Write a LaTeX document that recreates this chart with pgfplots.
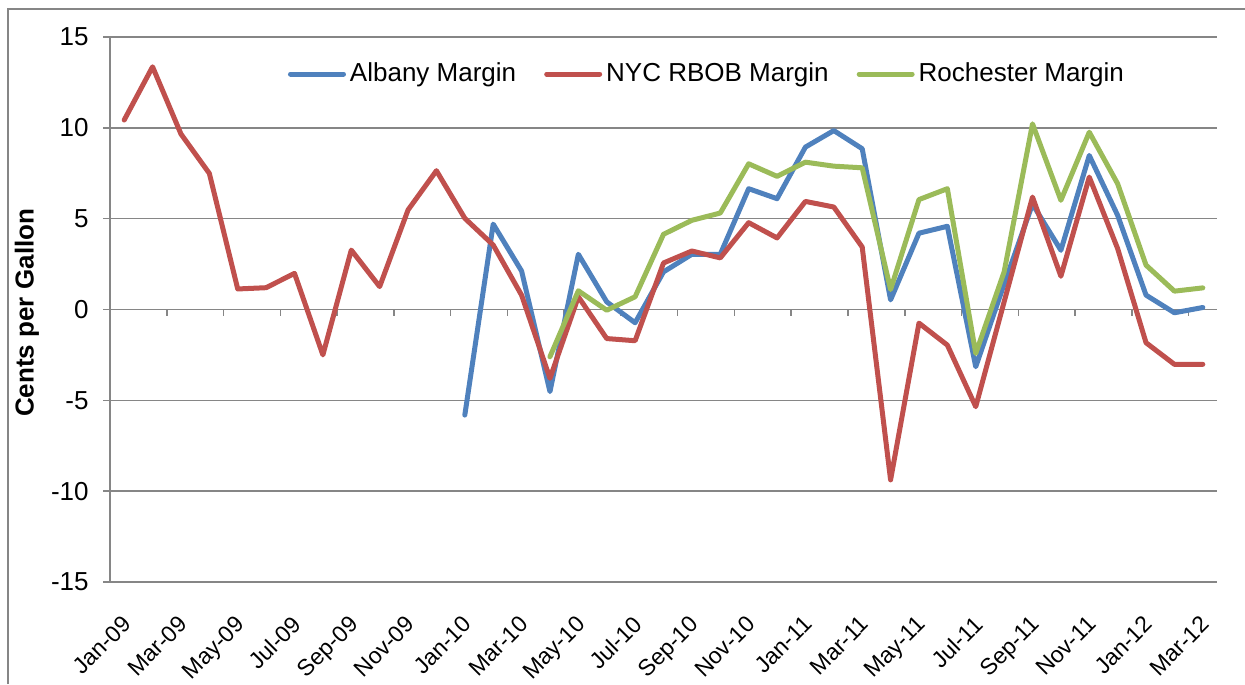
\documentclass[border=0pt]{standalone}
\usepackage{fontspec}
\setmainfont{Liberation Sans}
\usepackage{pgfplots}
\pgfplotsset{compat=1.18}
\definecolor{cblue}{RGB}{79,129,189}
\definecolor{cred}{RGB}{192,80,77}
\definecolor{cgreen}{RGB}{155,187,89}
\definecolor{cgrid}{RGB}{134,134,134}
\newcommand\cf{\fontsize{13pt}{15.6pt}\selectfont}
\newcommand\xf{\fontsize{11.5pt}{13.8pt}\selectfont}
\begin{document}
\begin{tikzpicture}
\useasboundingbox (0,0) rectangle (622.5pt,342pt);
\draw[cgrid, line width=0.75pt] (4pt,0) -- (4pt,337.5pt) -- (622.5pt,337.5pt);
\begin{axis}[
  at={(55pt,51pt)}, anchor=south west,
  width=553.5pt, height=272.5pt, scale only axis,
  xmin=-0.5, xmax=38.5, ymin=-15, ymax=15,
  axis x line*=bottom, axis y line*=left,
  x axis line style={draw=none},
  y axis line style={draw=cgrid, line width=0.75pt, -},
  ytick={-15,-10,...,15},
  yticklabels={-15,-10,-5,0,5,10,15},
  ymajorgrids, grid style={cgrid, line width=0.75pt},
  tick align=outside, major tick length=3.5pt,
  ytick style={cgrid, line width=0.75pt},
  xtick style={draw=none},
  xtick={-0.12,1.88,...,37.88},
  xticklabels={Jan-09,Mar-09,May-09,Jul-09,Sep-09,Nov-09,Jan-10,Mar-10,May-10,Jul-10,Sep-10,Nov-10,Jan-11,Mar-11,May-11,Jul-11,Sep-11,Nov-11,Jan-12,Mar-12},
  xticklabel style={font=\xf, rotate=45, anchor=north east, inner sep=0pt},
  xticklabel shift=12.5pt,
  yticklabel style={font=\cf, anchor=east, inner sep=0pt, xshift=-7pt},
  every axis y label/.style={at={(axis description cs:0,0.494)}, xshift=-41.5pt, rotate=90, anchor=center, font=\cf\bfseries},
  ylabel={Cents per Gallon},
  legend columns=3,
  legend style={draw=none, fill=none, at={(axis description cs:0.155,0.932)}, anchor=west, font=\cf,
    /tikz/every even column/.append style={column sep=12pt}},
  legend image code/.code={\draw[#1, line width=2.5pt, line cap=round] (0pt,0pt) -- (26.5pt,0pt);},
  every axis plot/.append style={line width=2.5pt, line join=round, line cap=round, mark=none},
]
\pgfplotsinvokeforeach{1.5,3.5,...,37.5}{\draw[cgrid, line width=0.75pt] (axis cs:#1,0) -- ([yshift=-3.5pt]axis cs:#1,0);}
\addplot[cblue] coordinates {
(12,-5.81) (13,4.7) (14,2.12) (15,-4.52) (16,3.04) (17,0.42) (18,-0.73) (19,2.07) (20,3.04) (21,3.04)
(22,6.65) (23,6.1) (24,8.94) (25,9.85) (26,8.85) (27,0.53) (28,4.2) (29,4.58) (30,-3.15) (31,1.4)
(32,5.8) (33,3.26) (34,8.48) (35,5.18) (36,0.79) (37,-0.18) (38,0.11)};
\addlegendentry{Albany Margin}
\addplot[cred] coordinates {
(0,10.43) (1,13.36) (2,9.66) (3,7.49) (4,1.13) (5,1.2) (6,1.99) (7,-2.5) (8,3.27) (9,1.26)
(10,5.48) (11,7.64) (12,5.02) (13,3.55) (14,0.79) (15,-3.79) (16,0.7) (17,-1.6) (18,-1.72) (19,2.56)
(20,3.22) (21,2.84) (22,4.78) (23,3.94) (24,5.95) (25,5.64) (26,3.44) (27,-9.38) (28,-0.75) (29,-1.96)
(30,-5.35) (31,0.42) (32,6.19) (33,1.83) (34,7.29) (35,3.35) (36,-1.83) (37,-3.02) (38,-3.02)};
\addlegendentry{NYC RBOB Margin}
\addplot[cgreen] coordinates {
(15,-2.6) (16,1.03) (17,-0.04) (18,0.7) (19,4.14) (20,4.91) (21,5.31) (22,8.02) (23,7.33) (24,8.11)
(25,7.89) (26,7.8) (27,1.1) (28,6.05) (29,6.65) (30,-2.42) (31,2.07) (32,10.22) (33,6.01) (34,9.76)
(35,6.92) (36,2.44) (37,1.01) (38,1.19)};
\addlegendentry{Rochester Margin}
\end{axis}
\end{tikzpicture}
\end{document}
